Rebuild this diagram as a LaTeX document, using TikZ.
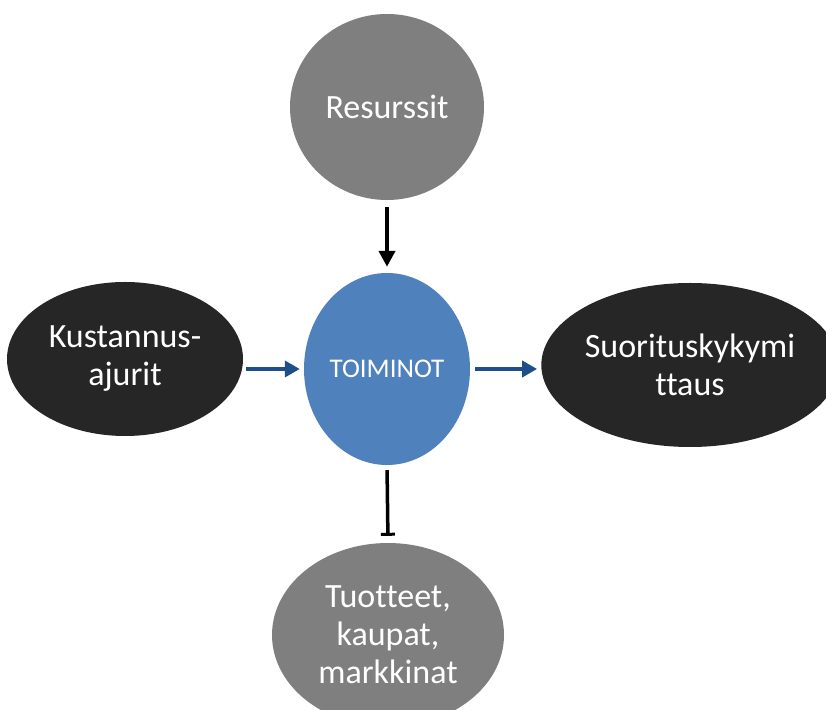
\documentclass[tikz,border=0pt]{standalone}
\usepackage{fontspec}
\setmainfont[RawFeature=-liga]{Carlito}
\usetikzlibrary{shapes.geometric,arrows.meta}
\definecolor{greyfill}{HTML}{7F7F7F}
\definecolor{darkfill}{HTML}{262626}
\definecolor{bluefill}{HTML}{4F81BD}
\definecolor{arrowblue}{HTML}{1F4E8A}
\tikzset{
  blob/.style={ellipse, inner sep=0pt, draw=none, text=white, align=center,
    font=\fontsize{34}{38}\selectfont},
  greyblob/.style={blob, fill=greyfill},
  darkblob/.style={blob, fill=darkfill},
  blueblob/.style={blob, fill=bluefill, font=\fontsize{27}{30}\selectfont},
  blackarrow/.style={line width=4pt, draw=black, -{Triangle[width=16pt,length=16pt]}},
  bluearrow/.style={line width=4.5pt, draw=arrowblue, -{Triangle[width=16pt,length=15pt]}},
  barline/.style={line width=3.5pt, draw=black, -{Bar[width=14pt,line width=3pt]}}
}
\begin{document}
\begin{tikzpicture}[x=1pt,y=1pt]
\useasboundingbox (0,0) rectangle (826,709);
\fill[white] (0,0) rectangle (826,709);
\node[greyblob, minimum width=194pt, minimum height=186pt] (res) at (387,602) {Resurssit};
\node[blueblob, minimum width=166pt, minimum height=192pt] (toim) at (387,340) {TOIMINOT};
\node[darkblob, minimum width=236pt, minimum height=154pt] (kust) at (125,350) {Kustannus-\\ajurit};
\node[darkblob, minimum width=280pt, minimum height=164pt] (suor) at (690,344) {Suorituskykymi\\ttaus};
\node[greyblob, minimum width=232pt, minimum height=184pt] (tuot) at (388,74) {Tuotteet,\\kaupat,\\markkinat};
\draw[blackarrow, shorten <=7pt, shorten >=6pt] (res.south) -- (toim.north);
\draw[bluearrow, shorten <=3pt, shorten >=4pt] (kust.east |- toim.west) -- (toim.west);
\draw[bluearrow, shorten <=5pt, shorten >=4pt] (toim.east) -- (suor.west |- toim.east);
\draw[barline, shorten <=5pt, shorten >=7pt] (toim.south) -- (tuot.north);
\end{tikzpicture}
\end{document}
